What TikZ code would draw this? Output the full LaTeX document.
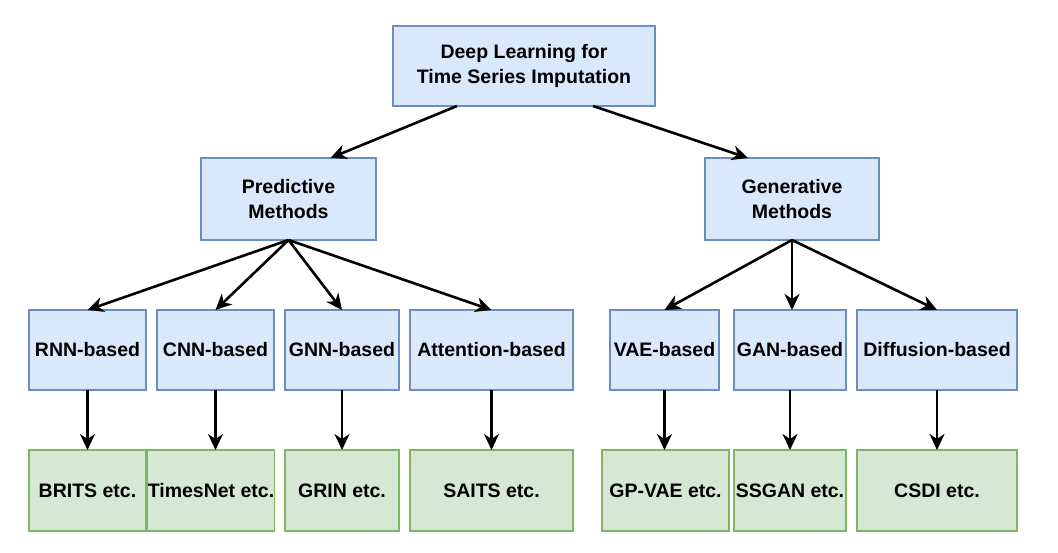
\documentclass[tikz,border=0pt]{standalone}
\usepackage{fontspec}
\setmainfont{Liberation Sans}
\usetikzlibrary{arrows.meta}
\definecolor{catfill}{HTML}{DAE8FC}
\definecolor{catline}{HTML}{6C8EBF}
\definecolor{exfill}{HTML}{D5E8D4}
\definecolor{exline}{HTML}{82B366}

\begin{document}
\begin{tikzpicture}[
x=1pt, y=-1pt,
 font=\fontsize{19.5}{25}\selectfont\bfseries,
    B/.style = {rectangle, draw=catline, fill=catfill,% blue boxes (categories)
                line width=1.3pt, align=center, inner sep=0pt,
                minimum height=80pt, outer sep=0pt},
    G/.style = {rectangle, draw=exline, fill=exfill,% green boxes (examples)
                line width=1.3pt, align=center, inner sep=0pt,
                minimum height=80pt, outer sep=0pt},
    arr/.style = {-{Stealth[length=16pt,width=15pt,inset=5pt]}, line width=2.6pt},
                        ]
\useasboundingbox (0,0) rectangle (1058,553);
\node[B, minimum width=262pt] (top) at (524,66)
    {Deep Learning for\\Time Series Imputation};
\node[B, minimum width=175pt, minimum height=82pt] (pred) at (288.5,199) {Predictive\\Methods};
\node[B, minimum width=174pt, minimum height=82pt] (gen) at (792,199) {Generative\\Methods};
% method families
\foreach \n/\x/\w/\t in {rnn/87.5/117/RNN-based, cnn/215.5/117/CNN-based,
        gnn/342/114/GNN-based, att/491.5/163/Attention-based,
        vae/664.5/109/VAE-based, gan/790/112/GAN-based,
        dif/937/160/Diffusion-based}% <-- content of nodes
    \node[B, minimum width={\w pt}] (\n) at (\x,350) {\t};
% examples
\foreach \n/\x/\w/\t in {brits/87.5/117/BRITS etc., tnet/211/126/TimesNet etc.,
        grin/342/114/GRIN etc., saits/491.5/163/SAITS etc.,
        gpvae/665.5/127/GP-VAE etc., ssgan/790/112/SSGAN etc.,
        csdi/937/160/CSDI etc.}% <-- content of nodes
    \node[G, minimum width={\w pt}, minimum height=81pt] (\n) at (\x,490.5) {\t};
\draw[arr] ([xshift=64pt]top.south west) -- ([xshift=42pt]pred.north);
\draw[arr] ([xshift=-62pt]top.south east) -- ([xshift=-44pt]gen.north);
\foreach \n in {rnn,cnn,gnn,att}
    \draw[arr] (pred.south) -- (\n.north);
\draw[arr] (gen.south) -- (vae.north);
\draw[arr] (gen.south) -- (gen.south |- gan.north);
\draw[arr] (gen.south) -- (dif.north);
\foreach \a/\b in {rnn/brits,cnn/tnet,gnn/grin,att/saits,vae/gpvae,gan/ssgan,dif/csdi}
    \draw[arr] (\a.south) -- (\a.south |- \b.north);
\end{tikzpicture}
\end{document}
